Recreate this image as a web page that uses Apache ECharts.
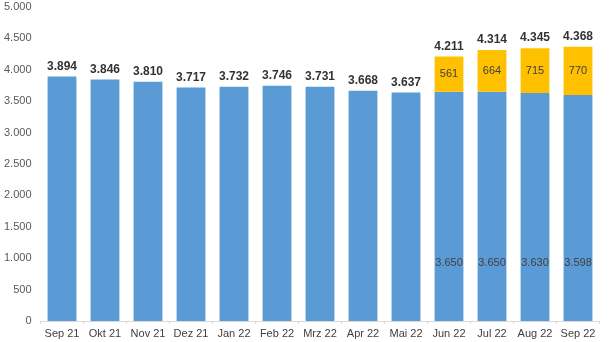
<!DOCTYPE html>
<html>
<head>
<meta charset="utf-8">
<script src="https://cdn.jsdelivr.net/npm/echarts@6/dist/echarts.min.js"></script>
<style>
  html, body { margin: 0; padding: 0; background: #ffffff; }
  #chart { width: 610px; height: 342px; }
</style>
</head>
<body>
<div id="chart"></div>
<script>
const months = ['Sep 21', 'Okt 21', 'Nov 21', 'Dez 21', 'Jan 22', 'Feb 22', 'Mrz 22',
                'Apr 22', 'Mai 22', 'Jun 22', 'Jul 22', 'Aug 22', 'Sep 22'];
const baseValues = [3894, 3846, 3810, 3717, 3732, 3746, 3731, 3668, 3637, 3650, 3650, 3630, 3598];
const extraValues = [null, null, null, null, null, null, null, null, null, 561, 664, 715, 770];
const yTicks = [0, 500, 1000, 1500, 2000, 2500, 3000, 3500, 4000, 4500, 5000];

const totals = baseValues.map((v, i) => v + (extraValues[i] || 0));

// German thousands separator: 3894 -> "3.894"
function fmt(n) {
  return String(Math.round(n)).replace(/\B(?=(\d{3})+(?!\d))/g, '.');
}

const FONT = '"Liberation Sans", Arial, sans-serif';

const chart = echarts.init(document.getElementById('chart'), null, { renderer: 'canvas' });

chart.setOption({
  animation: false,
  textStyle: { fontFamily: FONT },
  grid: { left: 40.5, right: 10.5, top: 7, bottom: 21, containLabel: false },
  xAxis: {
    type: 'category',
    data: months,
    axisLine: { lineStyle: { color: '#d9d9d9', width: 1 } },
    axisTick: { show: true, length: 3, lineStyle: { color: '#d9d9d9' } },
    axisLabel: { color: '#404040', fontSize: 11, fontFamily: FONT, margin: 7, interval: 0 }
  },
  yAxis: {
    type: 'value',
    min: yTicks[0],
    max: yTicks[yTicks.length - 1],
    interval: 500,
    splitLine: { show: false },
    axisLine: { show: false },
    axisTick: { show: false },
    axisLabel: { color: '#595959', fontSize: 11, fontFamily: FONT, margin: 9, formatter: v => fmt(v) }
  },
  series: [
    {
      name: 'Basis',
      type: 'bar',
      stack: 'total',
      barCategoryGap: '33%',
      itemStyle: { color: '#5b9bd5' },
      data: baseValues.map((v, i) => ({
        value: v,
        label: {
          show: extraValues[i] != null,
          position: 'insideBottom',
          distance: 53,
          color: '#404040',
          fontSize: 11,
          fontFamily: FONT,
          formatter: p => fmt(p.value)
        }
      }))
    },
    {
      name: 'Zusatz',
      type: 'bar',
      stack: 'total',
      itemStyle: { color: '#ffc000' },
      label: {
        show: true,
        position: 'inside',
        color: '#404040',
        fontSize: 11,
        fontFamily: FONT,
        formatter: p => (p.value == null ? '' : fmt(p.value))
      },
      data: extraValues
    },
    {
      name: 'Gesamt',
      type: 'bar',
      stack: 'total',
      itemStyle: { color: 'transparent' },
      label: {
        show: true,
        position: 'top',
        distance: 4,
        color: '#333333',
        fontSize: 12,
        fontWeight: 'bold',
        fontFamily: FONT,
        formatter: p => fmt(totals[p.dataIndex])
      },
      data: totals.map(() => 0)
    }
  ]
});
</script>
</body>
</html>
